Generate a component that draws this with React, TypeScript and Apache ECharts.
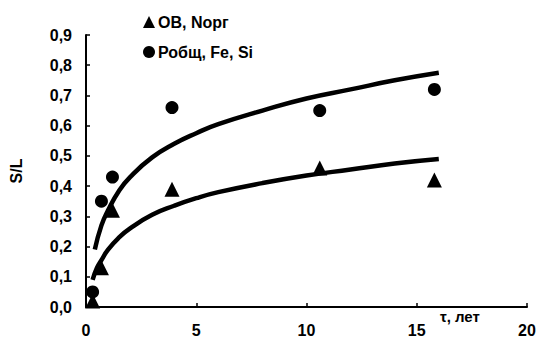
import React, { useEffect, useRef } from "react";
import * as echarts from "echarts";

const obT = [0.3, 0.7, 1.2, 3.9, 10.6, 15.8];
const obV = [0.02, 0.13, 0.32, 0.39, 0.46, 0.42];
const pT = [0.3, 0.7, 1.2, 3.9, 10.6, 15.8];
const pV = [0.05, 0.35, 0.43, 0.66, 0.65, 0.72];

const upperT = [0.4, 0.7, 1, 1.5, 2, 3, 4, 5, 6, 8, 10, 12, 14, 16];
const upperV = [0.19, 0.27, 0.32, 0.385, 0.43, 0.495, 0.54, 0.575, 0.605, 0.65, 0.69, 0.72, 0.75, 0.775];
const lowerT = [0.3, 0.5, 0.7, 1, 1.5, 2, 3, 4, 5, 6, 8, 10, 12, 14, 16];
const lowerV = [0.09, 0.13, 0.155, 0.19, 0.23, 0.26, 0.305, 0.335, 0.36, 0.38, 0.41, 0.435, 0.455, 0.475, 0.49];

const legendNames = ["ОВ, Nорг", "Робщ, Fe, Si"];
const xName = "τ, лет";
const yName = "S/L";

const zip = (a: number[], b: number[]) => a.map((v, i) => [v, b[i]]);

const FONT = "'Liberation Sans', Arial, sans-serif";

export default function App() {
  const ref = useRef<HTMLDivElement>(null);
  useEffect(() => {
    document.body.style.margin = "0";
    if (!ref.current) return;
    const chart = echarts.init(ref.current, undefined, { renderer: "svg" });
    chart.setOption({
      animation: false,
      backgroundColor: "#fff",
      grid: { left: 81, right: 13, top: 35, bottom: 34 },
      legend: {
        data: [
          { name: legendNames[0], icon: "triangle", itemStyle: { color: "#000", opacity: 1 } },
          { name: legendNames[1], icon: "circle", itemStyle: { color: "#000", opacity: 1 } },
        ],
        orient: "vertical",
        left: 138,
        top: 9,
        itemWidth: 12,
        itemHeight: 12,
        itemGap: 14,
        textStyle: { fontFamily: FONT, fontSize: 16, fontWeight: "bold", color: "#000", padding: [0, 0, 0, -2] },
      },
      xAxis: {
        type: "value",
        min: 0,
        max: 20,
        interval: 5,
        axisLine: { lineStyle: { color: "#000", width: 2 } },
        axisTick: { inside: true, length: 4, lineStyle: { color: "#000", width: 1.5 } },
        splitLine: { show: false },
        axisLabel: { margin: 15, fontFamily: FONT, fontSize: 16, fontWeight: "bold", color: "#000" },
      },
      yAxis: {
        type: "value",
        min: 0,
        max: 0.9,
        interval: 0.1,
        name: yName,
        nameLocation: "middle",
        nameRotate: 90,
        nameGap: 62,
        nameTextStyle: { fontFamily: FONT, fontSize: 16, fontWeight: "bold", color: "#000" },
        axisLine: { show: true, lineStyle: { color: "#000", width: 2 } },
        axisTick: { show: true, inside: true, length: 4, lineStyle: { color: "#000", width: 1.5 } },
        splitLine: { show: false },
        axisLabel: {
          margin: 14,
          fontFamily: FONT,
          fontSize: 16,
          fontWeight: "bold",
          color: "#000",
          formatter: (v: number) => v.toFixed(1).replace(".", ","),
        },
      },
      graphic: [
        {
          type: "text",
          left: 440,
          top: 309,
          style: { text: xName, font: `bold 15px ${FONT}`, fill: "#000" },
        },
      ],
      series: [
        {
          type: "line",
          data: zip(upperT, upperV),
          smooth: true,
          showSymbol: false,
          lineStyle: { color: "#000", width: 4.5 },
          silent: true,
        },
        {
          type: "line",
          data: zip(lowerT, lowerV),
          smooth: true,
          showSymbol: false,
          lineStyle: { color: "#000", width: 4.5 },
          silent: true,
        },
        {
          name: legendNames[0],
          type: "scatter",
          symbol: "triangle",
          symbolSize: 15,
          itemStyle: { color: "#000", opacity: 1 },
          data: zip(obT, obV),
        },
        {
          name: legendNames[1],
          type: "scatter",
          symbol: "circle",
          symbolSize: 13,
          itemStyle: { color: "#000", opacity: 1 },
          data: zip(pT, pV),
        },
      ],
    });
    return () => chart.dispose();
  }, []);
  return <div ref={ref} style={{ width: 540, height: 341 }} />;
}
